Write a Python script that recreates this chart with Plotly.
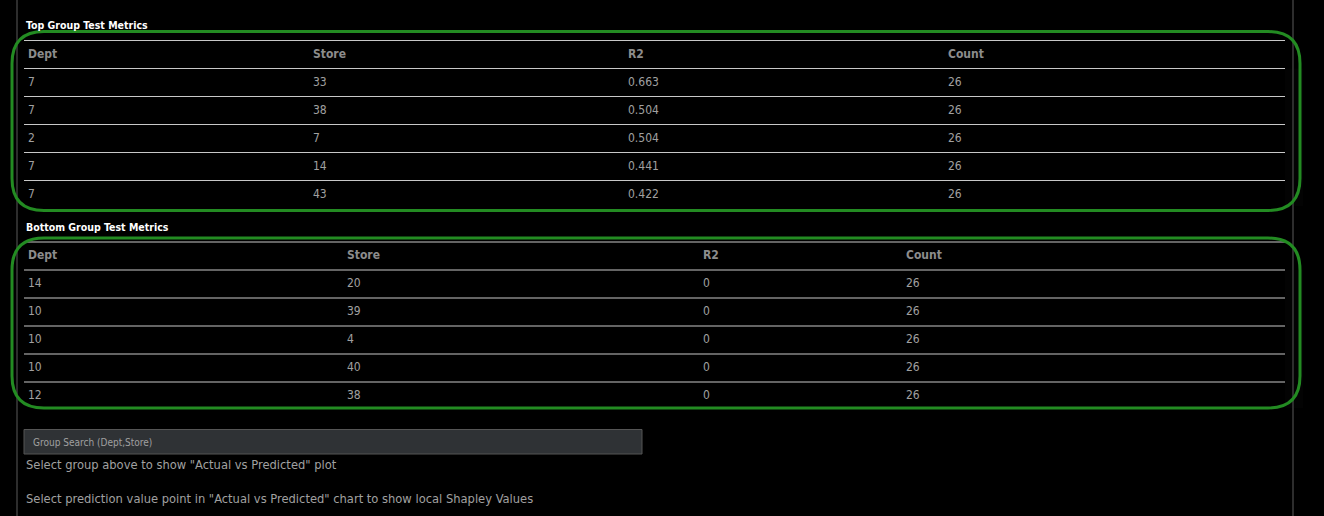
import plotly.graph_objects as go

# table data
cols = ["Dept", "Store", "R2", "Count"]

top_dept = [7, 7, 2, 7, 7]
top_store = [33, 38, 7, 14, 43]
top_r2 = [0.663, 0.504, 0.504, 0.441, 0.422]
top_count = [26, 26, 26, 26, 26]

bot_dept = [14, 10, 10, 10, 12]
bot_store = [20, 39, 4, 40, 38]
bot_r2 = [0, 0, 0, 0, 0]
bot_count = [26, 26, 26, 26, 26]

W, H = 1324, 516
ROW = 28
FONT = "Liberation Sans Narrow, DejaVu Sans Condensed, Roboto, sans-serif"
GREEN = "#238b22"
LINE = "#c8c8c8"


def px_x(v):
    return v / W


def px_y(v):
    return 1 - v / H


def make_table(values, top, widths):
    n = len(values[0]) + 1
    top = top - 2  # text sits a bit low in the cells otherwise
    return go.Table(
        domain=dict(x=[px_x(20), px_x(1285)], y=[px_y(top + n * ROW), px_y(top)]),
        columnwidth=widths,
        header=dict(
            values=["<b>%s</b>" % c for c in cols],
            align="left",
            height=ROW,
            fill_color="rgba(0,0,0,0)",
            line_color="rgba(0,0,0,0)",
            font=dict(family=FONT, size=12, color="#8c8c8c"),
        ),
        cells=dict(
            values=values,
            align="left",
            height=ROW,
            fill_color="rgba(0,0,0,0)",
            line_color="rgba(0,0,0,0)",
            font=dict(family=FONT, size=12, color="#a0a0a0"),
        ),
    )


def rounded(x0, y0, x1, y1, r):
    return (f"M{x0+r},{y0} L{x1-r},{y0} Q{x1},{y0} {x1},{y0+r} "
            f"L{x1},{y1-r} Q{x1},{y1} {x1-r},{y1} L{x0+r},{y1} "
            f"Q{x0},{y1} {x0},{y1-r} L{x0},{y0+r} Q{x0},{y0} {x0+r},{y0} Z")


fig = go.Figure()
fig.add_trace(make_table([top_dept, top_store, top_r2, top_count], 40.5, [285, 315, 320, 345]))
fig.add_trace(make_table([bot_dept, bot_store, bot_r2, bot_count], 242, [319, 356, 203, 387]))

shapes = []
# side rules of the page
for x in (17, 1293):
    shapes.append(dict(type="line", xref="x", yref="y", x0=x, x1=x, y0=0, y1=H,
                       line=dict(color="#3c3c3c", width=1.5)))
# row separators
for top, n in ((40.5, len(top_dept)), (242, len(bot_dept))):
    for i in range(n + 1):
        y = top + i * ROW
        shapes.append(dict(type="line", xref="x", yref="y", x0=24, x1=1285, y0=y, y1=y,
                           line=dict(color=LINE, width=1)))
# green frames
for y0, y1 in ((31.5, 210.5), (238, 408)):
    shapes.append(dict(type="path", xref="x", yref="y", path=rounded(12, y0, 1300, y1, 32),
                       line=dict(color=GREEN, width=3)))
# search box
shapes.append(dict(type="rect", xref="x", yref="y", x0=24, x1=642, y0=429.5, y1=454,
                   fillcolor="#2f3235", line=dict(color="#555555", width=1), layer="below"))

annotations = [
    dict(text="<b>Top Group Test Metrics</b>", x=24, y=25, font=dict(size=10.5, color="white")),
    dict(text="<b>Bottom Group Test Metrics</b>", x=24, y=226.5, font=dict(size=10.5, color="white")),
    dict(text="Group Search (Dept,Store)", x=31, y=442, font=dict(size=10, color="#a0a0a0")),
    dict(text='Select group above to show "Actual vs Predicted" plot', x=24, y=464,
         font=dict(size=12.8, color="#a0a0a0")),
    dict(text='Select prediction value point in "Actual vs Predicted" chart to show local Shapley Values',
         x=24, y=498, font=dict(size=12.8, color="#a0a0a0")),
]
for a in annotations:
    a.update(xref="x", yref="y", xanchor="left", yanchor="middle", showarrow=False)
    a["font"]["family"] = FONT

fig.update_layout(
    width=W, height=H,
    margin=dict(l=0, r=0, t=0, b=0),
    paper_bgcolor="black", plot_bgcolor="black",
    xaxis=dict(range=[0, W], visible=False, fixedrange=True),
    yaxis=dict(range=[H, 0], visible=False, fixedrange=True),
    shapes=shapes, annotations=annotations,
    showlegend=False,
)

fig.write_html("out.html", config={"displayModeBar": False},
               post_script="document.body.style.margin='0';document.body.style.background='black';"
                           "document.body.style.overflow='hidden';")
